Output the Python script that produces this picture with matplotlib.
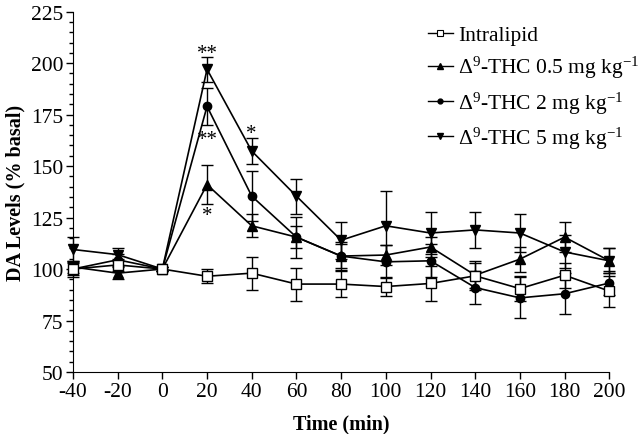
import matplotlib
matplotlib.use("Agg")
import matplotlib.pyplot as plt
from matplotlib.ticker import MultipleLocator
from matplotlib.lines import Line2D

plt.rcParams['font.family'] = ['Liberation Serif', 'DejaVu Serif']
plt.rcParams['mathtext.fontset'] = 'custom'
plt.rcParams['mathtext.rm'] = 'Liberation Serif'
plt.rcParams['mathtext.it'] = 'Liberation Serif:italic'
plt.rcParams['mathtext.bf'] = 'Liberation Serif:bold'
plt.rcParams['axes.unicode_minus'] = False

time = [-40, -20, 0, 20, 40, 60, 80, 100, 120, 140, 160, 180, 200]

intralipid = [100, 102, 100, 96.5, 98, 92.7, 92.7, 91.5, 93, 96.7, 90.5, 97, 89.3]
intralipid_err = [3, 3, 1, 3.5, 8, 8, 6.5, 4.5, 8.5, 6, 6, 6, 7.5]

thc05 = [101, 98, 100, 141, 121, 115.5, 106.3, 106.8, 110.7, 97, 104.8, 115.5, 104]
thc05_err = [3, 3, 1, 9.5, 5.5, 5.5, 6, 5, 5, 7, 6, 7.3, 6]

thc2 = [100, 104.5, 100, 179, 135.4, 115.5, 106.3, 103.5, 104, 91, 86, 88, 93.2]
thc2_err = [4, 3, 1, 9, 12, 10, 7, 8, 8, 8, 10, 10, 6]

thc5 = [109.5, 107, 100, 197, 157.3, 135.4, 114, 121, 117.5, 119, 117.5, 108.3, 104]
thc5_err = [6, 3, 1, 6, 6.5, 8.5, 9, 17, 10, 8.7, 9, 8, 6]

labels = ['Intralipid',
          'Δ$^{9}$-THC 0.5 mg kg$^{-1}$',
          'Δ$^{9}$-THC 2 mg kg$^{-1}$',
          'Δ$^{9}$-THC 5 mg kg$^{-1}$']

fig = plt.figure(figsize=(6.4, 4.35), dpi=100)
ax = fig.add_axes([0.114, 0.1425, 0.838, 0.8285])

common = dict(color='black', lw=1.2, elinewidth=1.0, capsize=4, capthick=1.0, clip_on=False)
series = [
    (thc5, thc5_err, 'v', 7, 'black', 3),
    (thc2, thc2_err, 'o', 6, 'black', 4),
    (thc05, thc05_err, '^', 7, 'black', 5),
    (intralipid, intralipid_err, 's', 7, 'white', 6),
]
for y, e, m, ms, fc, z in series:
    h = ax.errorbar(time, y, yerr=e, marker=m, ms=ms, mfc=fc, mec='black', mew=1.0,
                    zorder=z, **common)
    for art in h.lines[1] + h.lines[2]:
        art.set_clip_on(False)

ax.set_xlim(-40, 200)
ax.set_ylim(50, 225)
ax.set_xticks(time)
ax.yaxis.set_major_locator(MultipleLocator(25))
ax.yaxis.set_minor_locator(MultipleLocator(5))
ax.spines['top'].set_visible(False)
ax.spines['right'].set_visible(False)
ax.tick_params(axis='both', which='major', direction='out', length=5, width=1, labelsize=15.5, pad=2)
ax.tick_params(axis='y', which='minor', direction='out', length=3, width=1)

ax.set_xlabel('Time (min)', fontsize=14.5, fontweight='bold', labelpad=9)
ax.set_ylabel('DA Levels (% basal)', fontsize=14.5, fontweight='bold', labelpad=4)

# significance asterisks
ax.text(20, 204.5, '**', ha='center', va='center', fontsize=15)
ax.text(40, 166, '*', ha='center', va='center', fontsize=15)
ax.text(20, 163, '**', ha='center', va='center', fontsize=15)
ax.text(20, 126, '*', ha='center', va='center', fontsize=15)

leg_handles = [
    Line2D([], [], color='black', lw=1.0, marker='s', ms=4, mfc='white', mec='black', mew=0.8),
    Line2D([], [], color='black', lw=1.0, marker='^', ms=4, mfc='black', mec='black'),
    Line2D([], [], color='black', lw=1.0, marker='o', ms=3.5, mfc='black', mec='black'),
    Line2D([], [], color='black', lw=1.0, marker='v', ms=4, mfc='black', mec='black'),
]
leg = fig.legend(leg_handles, labels, loc='upper left',
                 bbox_to_anchor=(428 / 640, 1 - 26 / 435), bbox_transform=fig.transFigure,
                 frameon=False, fontsize=15.5,
                 handlelength=1.15, handletextpad=0.25, labelspacing=0.42,
                 borderpad=0.0, borderaxespad=0.0)

fig.savefig('out.png', dpi=100)
